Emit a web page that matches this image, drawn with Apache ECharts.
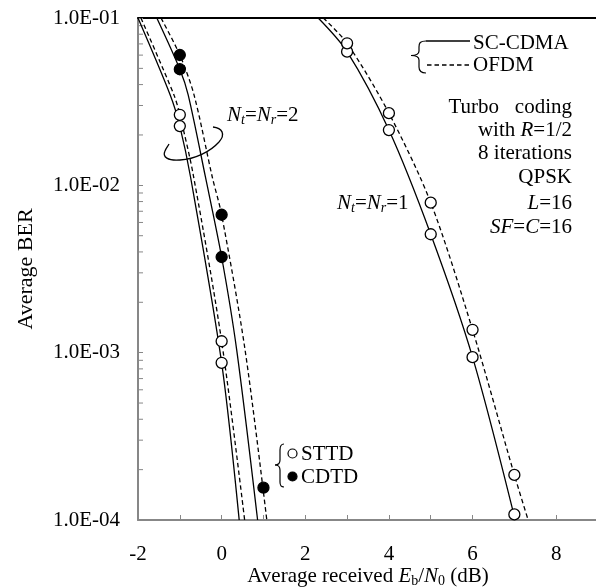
<!DOCTYPE html>
<html>
<head>
<meta charset="utf-8">
<script src="https://cdn.jsdelivr.net/npm/echarts@6/dist/echarts.min.js"></script>
<style>html,body{margin:0;padding:0;background:#fff;}#c{width:596px;height:588px;}</style>
</head>
<body>
<div id="c"></div>
<script>
// ---- Data ----
// Axis ticks
const xMin = -2, xMax = 9;
const xTickLabels = ['-2', '0', '2', '4', '6', '8'];
const yTickValues = [1e-4, 1e-3, 1e-2, 1e-1];
const yTickLabels = ['1.0E-04', '1.0E-03', '1.0E-02', '1.0E-01'];
const yMinorTicks = [2e-4,3e-4,4e-4,5e-4,6e-4,7e-4,8e-4,9e-4,
                     2e-3,3e-3,4e-3,5e-3,6e-3,7e-3,8e-3,9e-3,
                     2e-2,3e-2,4e-2,5e-2,6e-2,7e-2,8e-2,9e-2];

// Nt=Nr=1 curves
const nt1ScCurveX   = [2.31, 3, 4, 5, 6, 7.02];
const nt1ScCurveY   = [0.1, 0.0629, 0.0214, 0.0051, 0.00094, 0.0001];
const nt1OfdmCurveX = [2.43, 3, 4, 5, 6, 7, 7.33];
const nt1OfdmCurveY = [0.1, 0.0706, 0.027, 0.00788, 0.00137, 0.000186, 0.0001];
// Nt=Nr=1 markers
const nt1X      = [3, 4, 5, 6, 7];
const nt1ScY    = [0.0629, 0.0214, 0.0051, 0.00094, 0.000108];
const nt1OfdmY  = [0.0706, 0.027, 0.00788, 0.00137, 0.000186];

// Nt=Nr=2 curves
const sttdScCurveX   = [-2, -1.23, -1, -0.74, 0, 0.42];
const sttdScCurveY   = [0.1, 0.0347, 0.0226, 0.0111, 0.00087, 0.0001];
const sttdOfdmCurveX = [-1.93, -1.14, -1, -0.68, 0, 0.55];
const sttdOfdmCurveY = [0.1, 0.0347, 0.0264, 0.0116, 0.00117, 0.0001];
const cdtdScCurveX   = [-1.55, -1, -0.8, -0.39, 0, 0.36, 0.86];
const cdtdScCurveY   = [0.1, 0.0494, 0.0347, 0.0113, 0.00373, 0.00104, 0.0001];
const cdtdOfdmCurveX = [-1.45, -1, -0.66, -0.22, 0, 0.56, 1.08];
const cdtdOfdmCurveY = [0.1, 0.0601, 0.0347, 0.0111, 0.00667, 0.00104, 0.0001];
// Nt=Nr=2 markers
const sttdX     = [-1, 0];
const sttdScY   = [0.0226, 0.00087];
const sttdOfdmY = [0.0264, 0.00117];
const cdtdX     = [-1, 0, 1];
const cdtdScY   = [0.0494, 0.00373, null];
const cdtdOfdmY = [0.0601, 0.00667, 0.000156];

// ---- Styling ----
const FONT = '"Liberation Serif", "Times New Roman", serif';
const FS = 21;
const AXIS_GRAY = '#878787';
const zip = (xs, ys) => xs.map((x, i) => [x, ys[i]]).filter(p => p[1] != null);

function curve(name, xs, ys, dashed) {
  return {
    type: 'line', name: name, data: zip(xs, ys),
    showSymbol: false, symbol: 'none', smooth: 0.3,
    lineStyle: { color: '#000', width: 1.3, type: dashed ? [4.5, 3] : 'solid' },
    silent: true, z: 3
  };
}
function markers(name, xs, ys, filled) {
  return {
    type: 'scatter', name: name, data: zip(xs, ys),
    symbol: 'circle', symbolSize: 11,
    itemStyle: { color: filled ? '#000' : '#fff', borderColor: '#000', borderWidth: 1.3, opacity: 1 },
    z: 5
  };
}

const richBase = {
  i:   { fontFamily: FONT, fontSize: FS, fontStyle: 'italic', color: '#000', lineHeight: 24 },
  n:   { fontFamily: FONT, fontSize: FS, color: '#000', lineHeight: 24 },
  sub: { fontFamily: FONT, fontSize: 14, fontStyle: 'italic', color: '#000', verticalAlign: 'bottom', lineHeight: 15 },
  subn:{ fontFamily: FONT, fontSize: 14, color: '#000', verticalAlign: 'bottom', lineHeight: 15 }
};

function txt(x, y, text, align) {
  return {
    type: 'text', x: x, y: y, silent: true, z: 10,
    style: {
      text: text, fill: '#000', fontFamily: FONT, fontSize: FS,
      align: align || 'left', verticalAlign: 'middle', rich: richBase
    }
  };
}
function bz(x1, y1, cpx1, cpy1, cpx2, cpy2, x2, y2, lw) {
  return { type: 'bezierCurve', silent: true, z: 10,
    shape: { x1, y1, cpx1, cpy1, cpx2, cpy2, x2, y2 },
    style: { stroke: '#000', fill: null, lineWidth: lw || 1.2 } };
}
function ln(x1, y1, x2, y2, dashed, lw) {
  return { type: 'line', silent: true, z: 10,
    shape: { x1, y1, x2, y2 },
    style: { stroke: '#000', lineWidth: lw || 1.2, lineDash: dashed ? [4.5, 3] : null } };
}

const chart = echarts.init(document.getElementById('c'), null, { renderer: 'canvas' });

const option = {
  animation: false,
  backgroundColor: '#fff',
  grid: { left: 138, right: -2, top: 18, bottom: 68, containLabel: false, outerBoundsMode: 'none' },
  xAxis: [
    {
      type: 'value', min: xMin, max: xMax, interval: 1,
      axisLine: { onZero: false, lineStyle: { color: AXIS_GRAY, width: 2 } },
      axisTick: { inside: true, length: 5, lineStyle: { color: AXIS_GRAY, width: 1 } },
      splitLine: { show: false },
      axisLabel: {
        margin: 24, color: '#000', fontFamily: FONT, fontSize: FS,
        formatter: v => (xTickLabels.indexOf(String(v)) >= 0 ? String(v) : '')
      },
      name: 'Average received {i|E}{subn|b}/{i|N}{subn|0} (dB)',
      nameLocation: 'middle', nameGap: 44, nameMoveOverlap: false,
      nameTextStyle: { color: '#000', fontFamily: FONT, fontSize: FS, rich: richBase }
    },
    {
      type: 'value', position: 'top', min: xMin, max: xMax, interval: 1,
      axisLine: { show: true, onZero: false, lineStyle: { color: '#000', width: 2 } },
      axisTick: { show: false }, axisLabel: { show: false }, splitLine: { show: false }
    }
  ],
  yAxis: {
    type: 'log', logBase: 10, min: 1e-4, max: 1e-1, splitNumber: 3,
    axisLine: { show: true, onZero: false, lineStyle: { color: AXIS_GRAY, width: 2 } },
    axisTick: { show: true, inside: true, length: 5, lineStyle: { color: AXIS_GRAY, width: 1 } },
    splitLine: { show: false },
    axisLabel: {
      margin: 18, color: '#000', fontFamily: FONT, fontSize: FS,
      formatter: v => {
        const k = yTickValues.findIndex(t => Math.abs(Math.log10(t / v)) < 0.01);
        return k >= 0 ? yTickLabels[k] : '';
      }
    },
    name: 'Average BER', nameLocation: 'middle', nameGap: 101, nameMoveOverlap: false,
    nameTextStyle: { color: '#000', fontFamily: FONT, fontSize: 22 }
  },
  series: [
    {
      type: 'custom', name: 'yMinorTicks', silent: true, z: 1,
      data: yMinorTicks.map(v => [xMin, v]),
      encode: { x: 0, y: 1 },
      renderItem: (params, api) => {
        const p = api.coord([api.value(0), api.value(1)]);
        return { type: 'line', shape: { x1: p[0], y1: p[1], x2: p[0] + 5, y2: p[1] },
                 style: { stroke: AXIS_GRAY, lineWidth: 1 } };
      }
    },
    curve('SC-CDMA, Nt=Nr=1', nt1ScCurveX, nt1ScCurveY, false),
    curve('OFDM, Nt=Nr=1', nt1OfdmCurveX, nt1OfdmCurveY, true),
    curve('SC-CDMA STTD', sttdScCurveX, sttdScCurveY, false),
    curve('OFDM STTD', sttdOfdmCurveX, sttdOfdmCurveY, true),
    curve('SC-CDMA CDTD', cdtdScCurveX, cdtdScCurveY, false),
    curve('OFDM CDTD', cdtdOfdmCurveX, cdtdOfdmCurveY, true),
    markers('SC-CDMA, Nt=Nr=1 (sim)', nt1X, nt1ScY, false),
    markers('OFDM, Nt=Nr=1 (sim)', nt1X, nt1OfdmY, false),
    markers('STTD SC-CDMA (sim)', sttdX, sttdScY, false),
    markers('STTD OFDM (sim)', sttdX, sttdOfdmY, false),
    markers('CDTD SC-CDMA (sim)', cdtdX, cdtdScY, true),
    markers('CDTD OFDM (sim)', cdtdX, cdtdOfdmY, true)
  ],
  graphic: [
    // SC-CDMA / OFDM key
    bz(426, 41, 420, 41, 419, 43, 419, 47),
    ln(419, 47, 419, 51),
    bz(419, 51, 419, 54, 416, 55.5, 411, 55.5),
    bz(411, 55.5, 416, 55.5, 419, 57, 419, 60),
    ln(419, 60, 419, 67),
    bz(419, 67, 419, 71, 421, 73, 426, 73),
    ln(426, 41, 470, 41, false, 1.3),
    ln(427, 65, 469, 65, true, 1.3),
    txt(473, 43, 'SC-CDMA'),
    txt(473, 65, 'OFDM'),
    // Simulation conditions
    txt(572, 107, 'Turbo   coding', 'right'),
    txt(572, 130, 'with {i|R}{n|=1/2}', 'right'),
    txt(572, 153, '8 iterations', 'right'),
    txt(572, 177, 'QPSK', 'right'),
    txt(572, 203, '{i|L}{n|=16}', 'right'),
    txt(572, 227, '{i|SF}{n|=}{i|C}{n|=16}', 'right'),
    // Curve group labels
    txt(227, 115, '{i|N}{sub|t}{n|=}{i|N}{sub|r}{n|=2}'),
    txt(337, 203, '{i|N}{sub|t}{n|=}{i|N}{sub|r}{n|=1}'),
    // loop around Nt=Nr=2 curves
    bz(213, 127, 222, 128, 226, 134, 219, 142, 1.3),
    bz(219, 142, 210, 152, 195, 159, 180, 160, 1.3),
    bz(180, 160, 168, 161, 162, 157, 165, 151, 1.3),
    bz(165, 151, 166, 148, 168, 146, 169, 144, 1.3),
    // STTD / CDTD key
    bz(284, 444, 281, 444, 280, 446, 280, 450),
    ln(280, 450, 280, 460),
    bz(280, 460, 280, 463, 278, 465, 275, 465),
    bz(275, 465, 278, 465, 280, 467, 280, 470),
    ln(280, 470, 280, 482),
    bz(280, 482, 280, 486, 281, 487, 284, 487),
    { type: 'circle', silent: true, z: 10, shape: { cx: 292.5, cy: 453.5, r: 4.5 },
      style: { fill: '#fff', stroke: '#000', lineWidth: 1.2 } },
    { type: 'circle', silent: true, z: 10, shape: { cx: 292.5, cy: 476.5, r: 4.5 },
      style: { fill: '#000', stroke: '#000', lineWidth: 1.2 } },
    txt(301, 454, 'STTD'),
    txt(301, 477, 'CDTD')
  ]
};
chart.setOption(option);
</script>
</body>
</html>
